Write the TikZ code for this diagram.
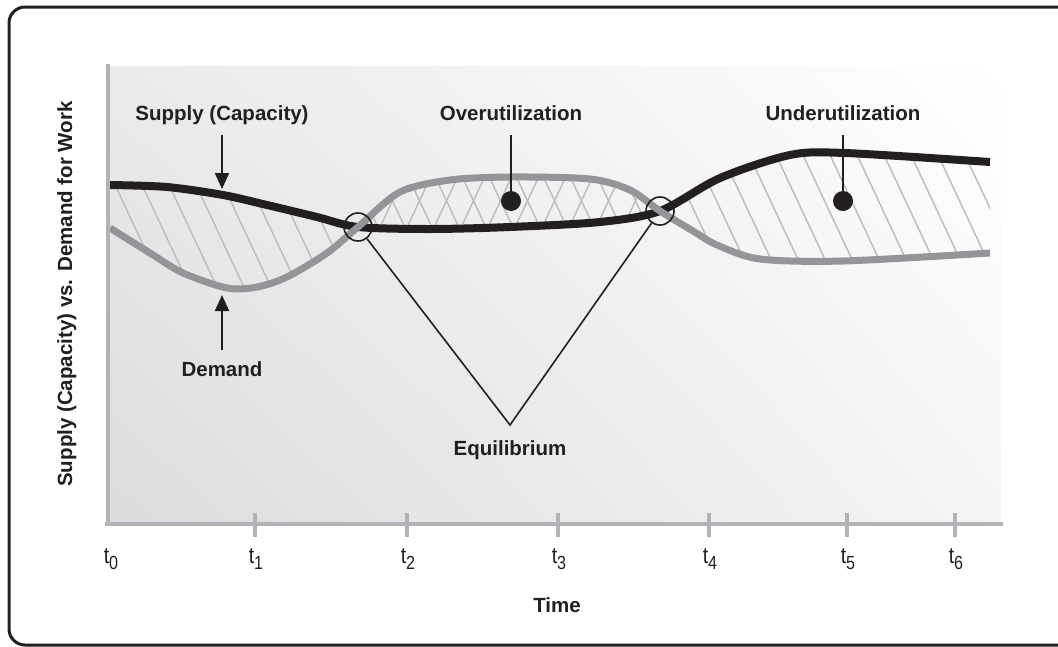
\documentclass[tikz,border=0pt]{standalone}
\usepackage{fontspec}
\setmainfont{Liberation Sans}
\usetikzlibrary{arrows.meta,shadings}
\definecolor{ink}{HTML}{231F20}
\definecolor{dgray}{HTML}{939598}
\definecolor{hgray}{HTML}{BCBEC0}
\definecolor{agray}{HTML}{B1B3B6}
\definecolor{bgll}{HTML}{DBDCDD}
\definecolor{bgul}{HTML}{EAEAEB}
\definecolor{bglr}{HTML}{F5F5F5}
\newcommand\tlab[1]{\scalebox{0.85}[1]{t\raisebox{-6pt}{\fontsize{19}{19}\selectfont #1}}}
\def\supplypts{(110,185) (167,187) (223,195) (267,205) (317,217) (358,227) (430,229) (510,227) (600,222) (660,211) (720,178) (790,155) (845,153) (990,162)}
\def\demandpts{(110,228) (150,253) (183,273) (227,288) (257,287) (287,277) (327,253) (358,227) (400,192) (450,180) (510,177) (590,179) (630,190) (660,211) (693,231) (717,245) (760,259) (843,261) (990,253)}
\def\demandrev{(990,253) (843,261) (760,259) (717,245) (693,231) (660,211) (630,190) (590,179) (510,177) (450,180) (400,192) (358,227) (327,253) (287,277) (257,287) (227,288) (183,273) (150,253) (110,228)}
\begin{document}
\begin{tikzpicture}[x=1pt,y=-1pt,
  lbl/.style={font=\fontsize{20.5}{24}\selectfont\bfseries, text=ink, text height=15pt, text depth=4pt, inner xsep=0pt, inner ysep=11pt, anchor=base},
  ticklbl/.style={font=\fontsize{23}{26}\selectfont, text=ink, anchor=base, inner sep=0pt},
  hatch/.style={draw=hgray, line width=1.5pt},
  supplyline/.style={draw=ink, line width=8pt},
  demandline/.style={draw=dgray, line width=7pt},
  arr/.style={draw=ink, line width=2pt, -{Triangle[width=14pt,length=16pt]}},
  leader/.style={draw=ink, line width=1.6pt},
  eqcirc/.style={circle, draw=ink, line width=1.6pt, minimum size=28pt, inner sep=0pt},
  dotmark/.style={circle, fill=ink, minimum size=20pt, inner sep=0pt},
  tickmark/.style={draw=agray, line width=4.5pt},
  axisline/.style={draw=agray, line width=4.5pt}]
\useasboundingbox (0,0) rectangle (1058,646);
\fill[white] (0,0) rectangle (1058,646);
% frame
\draw[ink, line width=3pt, rounded corners=16pt] (9,7) rectangle (1075,645);
% plot background
\shade[lower left=bgll, upper left=bgul, lower right=bglr, upper right=white] (108,66) rectangle (1001,524);
% hatching
\begin{scope}
  \clip plot[smooth] coordinates {\supplypts} -- plot[smooth] coordinates {\demandrev} -- cycle;
  \foreach \i in {0,...,40} \draw[hatch] (40+\i*27,140) -- ++(75,160);
  \begin{scope}
    \clip (358,100) rectangle (660,300);
    \foreach \i in {0,...,20} \draw[hatch] (340+\i*27,140) -- ++(-75,160);
  \end{scope}
\end{scope}
% curves
\draw[supplyline] plot[smooth] coordinates {\supplypts};
\draw[demandline] plot[smooth] coordinates {\demandpts};
% axes
\draw[axisline] (108,64) -- (108,526);
\draw[axisline] (105,524) -- (1003,524);
\foreach \x in {255,407,558,709,847,955} \draw[tickmark] (\x,513) -- (\x,537);
% tick labels
\node[ticklbl] (t0) at (111,563) {\tlab{0}};
\node[ticklbl] (t1) at (256,563) {\tlab{1}};
\node[ticklbl] (t2) at (408,563) {\tlab{2}};
\node[ticklbl] (t3) at (559,563) {\tlab{3}};
\node[ticklbl] (t4) at (710,563) {\tlab{4}};
\node[ticklbl] (t5) at (848,563) {\tlab{5}};
\node[ticklbl] (t6) at (956,563) {\tlab{6}};
\node[lbl] (time) at (557,612) {Time};
\node[lbl, rotate=90] (ylab) at (72,294) {Supply (Capacity) vs. Demand for Work};
% labels and markers
\node[lbl] (sup) at (222,120) {Supply (Capacity)};
\coordinate (suptip) at (222,189);
\draw[arr] (sup.south) -- (suptip);
\node[lbl] (dem) at (222,376) {Demand};
\coordinate (demtip) at (222,295);
\draw[arr] (dem.north) -- (demtip);
\node[lbl] (ov) at (511,120) {Overutilization};
\node[dotmark] (d1) at (511,201) {};
\draw[leader] (ov.south) -- (d1);
\node[lbl] (un) at (843,120) {Underutilization};
\node[dotmark] (d2) at (843,201) {};
\draw[leader] (un.south) -- (d2);
\node[eqcirc] (e1) at (358,227) {};
\node[eqcirc] (e2) at (660,211) {};
\coordinate (apex) at (510,425);
\draw[leader, line join=miter] (e1) -- (apex) -- (e2);
\node[lbl] (eq) at (510,455) {Equilibrium};
\end{tikzpicture}
\end{document}
